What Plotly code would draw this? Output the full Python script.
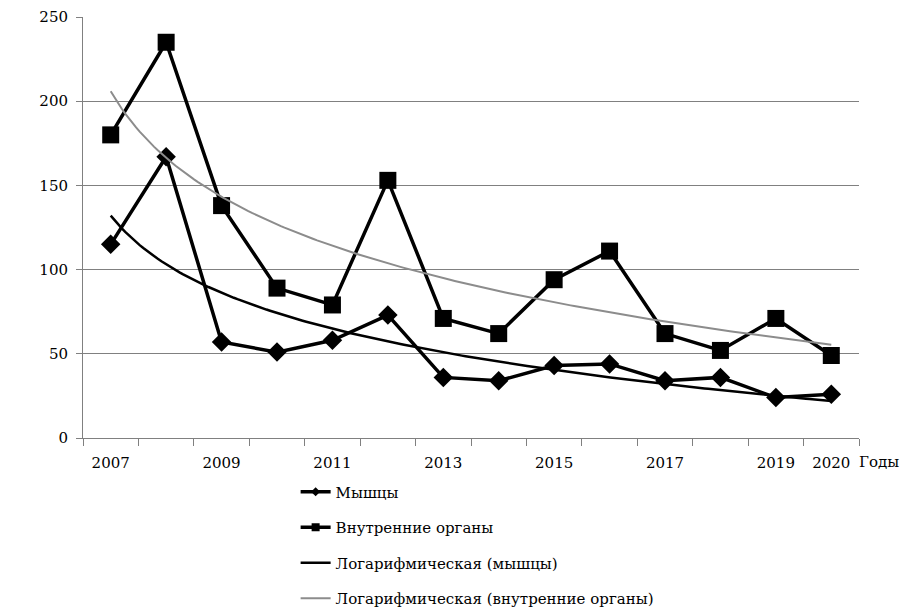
import numpy as np
import plotly.graph_objects as go

years = [2007, 2008, 2009, 2010, 2011, 2012, 2013, 2014, 2015, 2016, 2017, 2018, 2019, 2020]
muscles = [115, 167, 57, 51, 58, 73, 36, 34, 43, 44, 34, 36, 24, 26]
organs = [180, 235, 138, 89, 79, 153, 71, 62, 94, 111, 62, 52, 71, 49]
tick_years = [2007, 2009, 2011, 2013, 2015, 2017, 2019, 2020]
tick_labels = ["2007", "2009", "2011", "2013", "2015", "2017", "2019", "2020"]
y_ticks = [0, 50, 100, 150, 200, 250]

# Logarithmic trendlines (least squares on ln of period index, as in a spreadsheet trendline)
idx = np.arange(1, len(years) + 1)
a_m, b_m = np.polyfit(np.log(idx), muscles, 1)
a_o, b_o = np.polyfit(np.log(idx), organs, 1)
t = np.linspace(1, len(years), 200)
t_years = years[0] - 1 + t
trend_m = a_m * np.log(t) + b_m
trend_o = a_o * np.log(t) + b_o

FONT = "DejaVu Serif"
FS = 15

fig = go.Figure()
# data traces (legend entries drawn by small-marker proxies below)
fig.add_trace(go.Scatter(x=years, y=muscles, mode="lines+markers", name="Мышцы",
                         line=dict(color="black", width=3.5),
                         marker=dict(symbol="diamond", size=15, color="black"),
                         showlegend=False))
fig.add_trace(go.Scatter(x=years, y=organs, mode="lines+markers", name="Внутренние органы",
                         line=dict(color="black", width=3.5),
                         marker=dict(symbol="square", size=17, color="black"),
                         showlegend=False))
fig.add_trace(go.Scatter(x=t_years, y=trend_m, mode="lines", name="Логарифмическая (мышцы)",
                         line=dict(color="black", width=2.5), showlegend=False))
fig.add_trace(go.Scatter(x=t_years, y=trend_o, mode="lines", name="Логарифмическая (внутренние органы)",
                         line=dict(color="#8c8c8c", width=2), showlegend=False))

# legend proxies
fig.add_trace(go.Scatter(x=[None], y=[None], mode="lines+markers", name="Мышцы",
                         line=dict(color="black", width=3.5),
                         marker=dict(symbol="diamond", size=7, color="black"), legendgroup="a"))
fig.add_trace(go.Scatter(x=[None], y=[None], mode="lines+markers", name="Внутренние органы",
                         line=dict(color="black", width=3.5),
                         marker=dict(symbol="square", size=8, color="black"), legendgroup="b"))
fig.add_trace(go.Scatter(x=[None], y=[None], mode="lines", name="Логарифмическая (мышцы)",
                         line=dict(color="black", width=2.5), legendgroup="c"))
fig.add_trace(go.Scatter(x=[None], y=[None], mode="lines", name="Логарифмическая (внутренние органы)",
                         line=dict(color="#8c8c8c", width=2), legendgroup="d"))

half = [y - 0.5 for y in years] + [years[-1] + 0.5]

fig.update_layout(
    width=913, height=622,
    margin=dict(l=75, r=62, t=9, b=192),
    paper_bgcolor="white", plot_bgcolor="white",
    font=dict(family=FONT, size=FS, color="black"),
    showlegend=True,
    legend=dict(x=0.274, y=-0.089, xanchor="left", yanchor="top",
                font=dict(family=FONT, size=FS, color="black"),
                tracegroupgap=13, bgcolor="rgba(0,0,0,0)"),
    xaxis=dict(range=[years[0] - 0.5, years[-1] + 0.5], tickvals=tick_years, ticktext=tick_labels,
               automargin=False,
               ticks="outside", ticklen=11, tickcolor="rgba(0,0,0,0)",
               showgrid=False, zeroline=False, showline=True, linecolor="#808080", linewidth=1,
               tickfont=dict(family=FONT, size=FS, color="black"),
               minor=dict(tickvals=half, ticks="outside", ticklen=7, tickcolor="#808080", showgrid=False)),
    yaxis=dict(range=[0, 250], tickvals=y_ticks, ticks="outside", ticklen=6, tickcolor="#808080",
               automargin=False, ticklabelstandoff=5,
               showgrid=True, gridcolor="#808080", gridwidth=1, zeroline=False,
               showline=True, linecolor="#808080", linewidth=1,
               tickfont=dict(family=FONT, size=FS, color="black")),
    annotations=[dict(text="Годы", xref="paper", yref="paper", x=1.0, y=-0.057,
                      xanchor="left", yanchor="middle", showarrow=False, xshift=-2,
                      font=dict(family=FONT, size=FS, color="black"))],
)

fig.write_html("out.html")
